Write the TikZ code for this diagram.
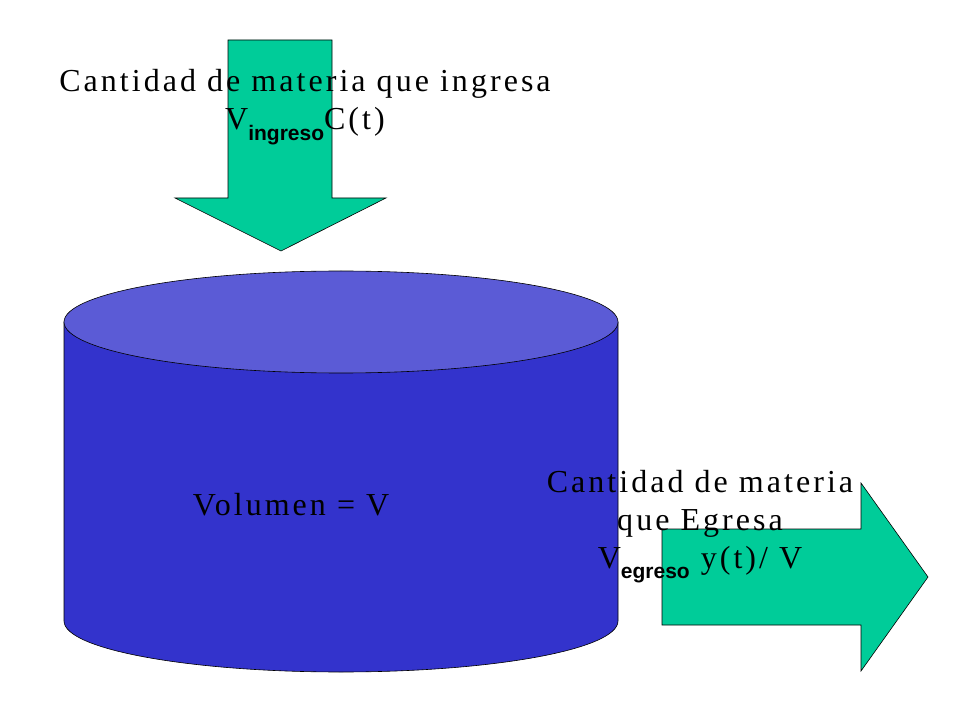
\documentclass[tikz,border=0pt]{standalone}
\usepackage{fontspec}
\setmainfont{Liberation Serif}[LetterSpace=9.5]
\newfontfamily\subfont{Liberation Sans}
\usetikzlibrary{positioning}

\definecolor{flowgreen}{HTML}{00CC99}
\definecolor{tankblue}{HTML}{3333CC}
\definecolor{tanktop}{HTML}{5B5BD6}

\newcommand{\subtxt}[1]{\raisebox{-0.7ex}{\subfont\bfseries\fontsize{21}{21}\selectfont #1}}

\begin{document}
\begin{tikzpicture}[x=1pt, y=-1pt, inner sep=0pt,
    flow/.style={fill=flowgreen, draw=black, line width=0.6pt, line join=miter},
    label/.style={font=\fontsize{32}{38}\selectfont, align=center, anchor=base}]
      \useasboundingbox (0,0) rectangle (959,719);

      % tank
      \fill[tankblue, draw=black, line width=0.6pt] (64,322) -- (64,621)
        arc[start angle=180, end angle=0, x radius=277, y radius=51]
        -- (618,322) -- cycle;
      \filldraw[fill=tanktop, draw=black, line width=0.6pt] (341,322) ellipse [x radius=277, y radius=51];

      % arrows
      \draw[flow] (228,40) -- (332,40) -- (332,198) -- (386,198) -- (281,251)
        -- (175,198) -- (228,198) -- cycle;
      \draw[flow] (662,529) -- (861,529) -- (861,483) -- (928,577) -- (861,671)
        -- (861,625) -- (662,625) -- cycle;

      % texts (base = last line)
      \node[label] (ingreso) at (305,130) {Cantidad de materia que ingresa\\
        V\subtxt{ingreso}C(t)};
      \node[label] (volumen) at (291,515) {Volumen = V};
      \node[label] (egreso) at (700,568) {Cantidad de materia\\ que Egresa\\
        V\subtxt{egreso} y(t)/ V};
\end{tikzpicture}
\end{document}
